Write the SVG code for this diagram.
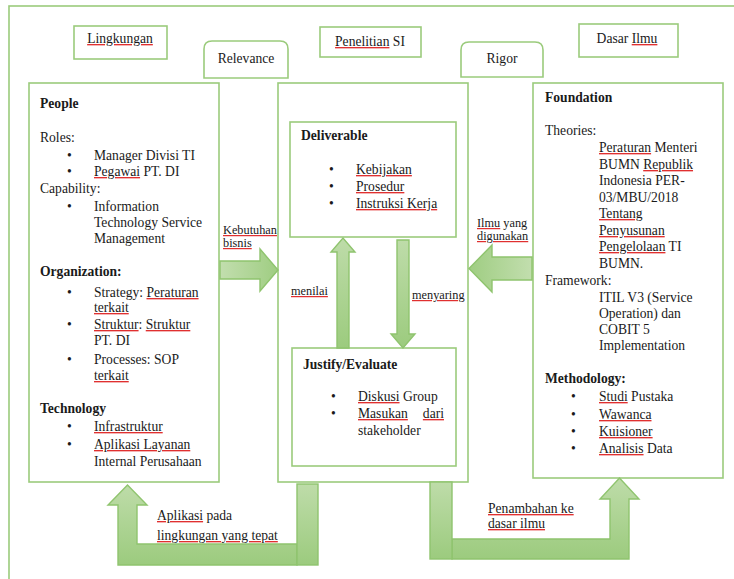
<svg xmlns="http://www.w3.org/2000/svg" width="734" height="579" viewBox="0 0 734 579">
<style>
text{font-family:"Liberation Serif","Times New Roman",serif;font-size:13.6px;fill:#1a1a1a}
.b{font-weight:bold}
.lb{font-size:12.3px}
.box{fill:#fff;stroke:#9bcb7c;stroke-width:1.6}
.frame{fill:none;stroke:#9bcb7c;stroke-width:1.6}
.arr{fill:url(#g);stroke:#8fc46e;stroke-width:1.4}
.arrh{fill:url(#gh);stroke:#8fc46e;stroke-width:1.4}
.sp{fill:#e03030;text-decoration:underline}
.w{fill:#1a1a1a}
.m{text-anchor:middle}
</style>
<defs>
<linearGradient id="g" x1="0" y1="0" x2="0" y2="1">
<stop offset="0" stop-color="#bedca9"/>
<stop offset="1" stop-color="#9ccb7e"/>
</linearGradient>
<linearGradient id="gh" x1="0" y1="0" x2="1" y2="0">
<stop offset="0" stop-color="#9fcd82"/>
<stop offset="1" stop-color="#c2deae"/>
</linearGradient>
<linearGradient id="gr" x1="0" y1="0" x2="1" y2="0">
<stop offset="0" stop-color="#c2deae"/>
<stop offset="1" stop-color="#9fcd82"/>
</linearGradient>
</defs>

<rect class="frame" x="9" y="6" width="740" height="600"/>

<g id="lingkungan"><rect class="box" x="74" y="26" width="93" height="33"/><text class="m" x="120" y="43"><tspan class="sp"><tspan class="w">Lingkungan</tspan></tspan></text></g>
<g id="relevance"><path class="box" d="M204,78 L204,49 Q204,41 212,41 L280,41 Q288,41 288,49 L288,78 Z"/><text class="m" x="246" y="63">Relevance</text></g>
<g id="penelitian"><rect class="box" x="320" y="27" width="101" height="30"/><text class="m" x="370" y="46"><tspan class="sp"><tspan class="w">Penelitian</tspan></tspan> SI</text></g>
<g id="rigor"><path class="box" d="M461,77 L461,50 Q461,42 469,42 L535,42 Q543,42 543,50 L543,77 Z"/><text class="m" x="502" y="63">Rigor</text></g>
<g id="dasar-ilmu"><rect class="box" x="579" y="24" width="99" height="33"/><text class="m" x="627" y="43">Dasar <tspan class="sp"><tspan class="w">Ilmu</tspan></tspan></text></g>

<g id="people">
<rect class="box" x="29" y="83" width="190" height="399"/>
<text class="b" x="40" y="108">People</text>
<text x="40" y="142">Roles:</text>
<text x="67" y="160">•</text><text x="94" y="160">Manager Divisi TI</text>
<text x="67" y="176">•</text><text x="94" y="176"><tspan class="sp"><tspan class="w">Pegawai</tspan></tspan> PT. DI</text>
<text x="40" y="193">Capability:</text>
<text x="67" y="211">•</text><text x="94" y="211">Information</text>
<text x="94" y="227">Technology Service</text>
<text x="94" y="243">Management</text>
<text class="b" x="40" y="276">Organization:</text>
<text x="67" y="297">•</text><text x="94" y="297">Strategy: <tspan class="sp"><tspan class="w">Peraturan</tspan></tspan></text>
<text x="94" y="312"><tspan class="sp"><tspan class="w">terkait</tspan></tspan></text>
<text x="67" y="329">•</text><text x="94" y="329"><tspan class="sp"><tspan class="w">Struktur</tspan></tspan>: <tspan class="sp"><tspan class="w">Struktur</tspan></tspan></text>
<text x="94" y="345">PT. DI</text>
<text x="67" y="364">•</text><text x="94" y="364">Processes: SOP</text>
<text x="94" y="380"><tspan class="sp"><tspan class="w">terkait</tspan></tspan></text>
<text class="b" x="40" y="413">Technology</text>
<text x="67" y="431">•</text><text x="94" y="431"><tspan class="sp"><tspan class="w">Infrastruktur</tspan></tspan></text>
<text x="67" y="449">•</text><text x="94" y="449"><tspan class="sp"><tspan class="w">Aplikasi Layanan</tspan></tspan></text>
<text x="94" y="466">Internal Perusahaan</text>
</g>

<g id="center"><rect class="box" x="278" y="83" width="190" height="399"/></g>

<g id="deliverable">
<rect class="box" x="290" y="122" width="166" height="115"/>
<text class="b" x="301" y="140">Deliverable</text>
<text x="329" y="174">•</text><text x="356" y="174"><tspan class="sp"><tspan class="w">Kebijakan</tspan></tspan></text>
<text x="329" y="191">•</text><text x="356" y="191"><tspan class="sp"><tspan class="w">Prosedur</tspan></tspan></text>
<text x="329" y="208">•</text><text x="356" y="208"><tspan class="sp"><tspan class="w">Instruksi Kerja</tspan></tspan></text>
</g>

<g id="justify">
<rect class="box" x="292" y="348" width="164" height="118"/>
<text class="b" x="303" y="369">Justify/Evaluate</text>
<text x="331" y="401">•</text><text x="358" y="401"><tspan class="sp"><tspan class="w">Diskusi</tspan></tspan> Group</text>
<text x="331" y="418">•</text><text x="358" y="418"><tspan class="sp"><tspan class="w">Masukan</tspan></tspan></text><text x="444" y="418" text-anchor="end"><tspan class="sp"><tspan class="w">dari</tspan></tspan></text>
<text x="358" y="435">stakeholder</text>
</g>

<g id="foundation">
<rect class="box" x="533" y="83" width="190" height="395"/>
<text class="b" x="545" y="102">Foundation</text>
<text x="545" y="135">Theories:</text>
<text x="599" y="152"><tspan class="sp"><tspan class="w">Peraturan</tspan></tspan> Menteri</text>
<text x="599" y="169">BUMN <tspan class="sp"><tspan class="w">Republik</tspan></tspan></text>
<text x="599" y="185">Indonesia PER-</text>
<text x="599" y="202">03/MBU/2018</text>
<text x="599" y="218"><tspan class="sp"><tspan class="w">Tentang</tspan></tspan></text>
<text x="599" y="235"><tspan class="sp"><tspan class="w">Penyusunan</tspan></tspan></text>
<text x="599" y="251"><tspan class="sp"><tspan class="w">Pengelolaan</tspan></tspan> TI</text>
<text x="599" y="268">BUMN.</text>
<text x="545" y="285">Framework:</text>
<text x="599" y="302">ITIL V3 (Service</text>
<text x="599" y="318">Operation) dan</text>
<text x="599" y="334">COBIT 5</text>
<text x="599" y="350">Implementation</text>
<text class="b" x="545" y="383">Methodology:</text>
<text x="571" y="401">•</text><text x="599" y="401"><tspan class="sp"><tspan class="w">Studi</tspan></tspan> Pustaka</text>
<text x="571" y="419">•</text><text x="599" y="419"><tspan class="sp"><tspan class="w">Wawanca</tspan></tspan></text>
<text x="571" y="436">•</text><text x="599" y="436"><tspan class="sp"><tspan class="w">Kuisioner</tspan></tspan></text>
<text x="571" y="453">•</text><text x="599" y="453"><tspan class="sp"><tspan class="w">Analisis</tspan></tspan> Data</text>
</g>

<g id="connectors">
<polygon class="arr" style="fill:url(#gr)" points="220,261 260,261 260,249 278,270 260,291 260,279 220,279"/>
<polygon class="arrh" points="532,257 492,257 492,245 469,268.5 492,292 492,280 532,280"/>
<polygon class="arr" points="337,348 337,252 331,252 343,238 355,252 349,252 349,348"/>
<polygon class="arr" points="397,240 409,240 409,334 415,334 403,348 391,334 397,334"/>
<path class="arr" d="M118,565 L118,505 L108,505 L127.5,485 L147,505 L137,505 L137,544 L297,544 L297,565 Z"/>
<rect class="arr" x="297" y="484" width="21" height="81"/>
<path class="arr" d="M452,539 L610,539 L610,499 L600,499 L619.5,478 L639,499 L629,499 L629,559 L452,559 Z"/>
<rect class="arr" x="430" y="482" width="22" height="77"/>
<text class="lb" x="223" y="234"><tspan class="sp"><tspan class="w">Kebutuhan</tspan></tspan></text>
<text class="lb" x="223" y="247"><tspan class="sp"><tspan class="w">bisnis</tspan></tspan></text>
<text class="lb" x="477" y="227"><tspan class="sp"><tspan class="w">Ilmu</tspan></tspan> yang</text>
<text class="lb" x="477" y="240"><tspan class="sp"><tspan class="w">digunakan</tspan></tspan></text>
<text class="lb" x="291" y="295"><tspan class="sp"><tspan class="w">menilai</tspan></tspan></text>
<text class="lb" x="412" y="299"><tspan class="sp"><tspan class="w">menyaring</tspan></tspan></text>
<text x="157" y="520"><tspan class="sp"><tspan class="w">Aplikasi</tspan></tspan> pada</text>
<text x="157" y="540"><tspan class="sp"><tspan class="w">lingkungan yang tepat</tspan></tspan></text>
<text x="488" y="513"><tspan class="sp"><tspan class="w">Penambahan ke</tspan></tspan></text>
<text x="488" y="528"><tspan class="sp"><tspan class="w">dasar ilmu</tspan></tspan></text>
</g>
</svg>
